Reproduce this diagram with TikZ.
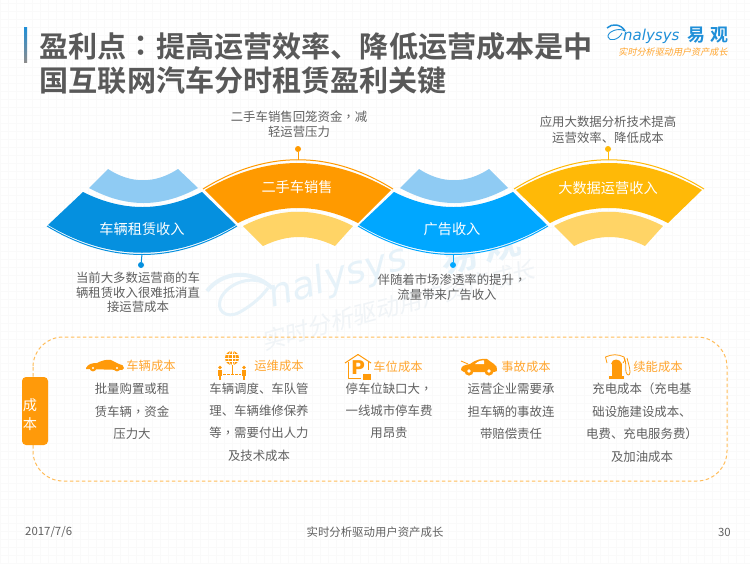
\documentclass[tikz,border=0pt]{standalone}
\usepackage{fontspec}
\setmainfont{DejaVu Sans}
\newfontfamily\cjk{Noto Sans CJK SC}
\newfontfamily\cjkb{Noto Sans CJK SC Bold}
\newfontfamily\cjktc{Noto Sans CJK TC}
\newfontfamily\cjktcb{Noto Sans CJK TC Bold}
\newfontfamily\cjksl[FakeSlant=0.2]{Noto Sans CJK SC}
\newfontfamily\latsl{DejaVu Sans Oblique}
\newcommand{\cm}{{\cjktc ，}}
\newcommand{\lp}{{\cjktc （}}
\newcommand{\rp}{{\cjktc ）}}
\usetikzlibrary{calc}
\definecolor{txtgray}{HTML}{606060}
\definecolor{titlegray}{HTML}{595959}
\definecolor{blueA}{HTML}{0590DF}
\definecolor{blueB}{HTML}{00A7FF}
\definecolor{orangeA}{HTML}{FF9A00}
\definecolor{yellowA}{HTML}{FFB907}
\definecolor{lightblue}{HTML}{8FCBF3}
\definecolor{lightyellow}{HTML}{FFD466}
\definecolor{headorange}{HTML}{FFA52E}
\definecolor{iconorange}{HTML}{FF9A0A}
\definecolor{dashorange}{HTML}{FFBD5A}
\definecolor{logoblue}{HTML}{1F8FD8}
\definecolor{wm}{HTML}{E6F2F9}
\definecolor{wmt}{HTML}{F0F4F7}
\definecolor{gridc}{HTML}{FAFAFA}
\tikzset{
  body/.style={font=\fontsize{12.4}{14}\selectfont\cjk,text=txtgray,inner sep=0pt,anchor=center},
  lab/.style={font=\fontsize{14.2}{16}\selectfont\cjk,text=white,inner sep=0pt},
  head/.style={font=\fontsize{12.3}{14}\selectfont\cjk,text=headorange,inner sep=0pt},
  titl/.style={font=\fontsize{29.1}{31}\selectfont\cjkb,text=titlegray,inner sep=0pt,anchor=west},
  foot/.style={font=\fontsize{11.4}{13}\selectfont\cjk,text=txtgray,inner sep=0pt},
  dotn/.style={circle,inner sep=0pt,minimum size=6pt},
}
\begin{document}
\begin{tikzpicture}[x=1pt,y=-1pt,line join=round]
\useasboundingbox (0,0) rectangle (750,563);
\fill[white] (0,0) rectangle (750,563);
% faint grid
\foreach \i in {0,8,...,750} {\draw[gridc,line width=0.4pt] (\i,0) -- (\i,563);}
\foreach \i in {3,11,...,563} {\draw[gridc,line width=0.4pt] (0,\i) -- (750,\i);}
% watermark
\node[rotate=16,inner sep=0pt,text=wm,font=\fontsize{38}{40}\selectfont\latsl] (wmlogo) at (338,278) {nalysys};
\node[rotate=16,inner sep=0pt,text=wm,font=\fontsize{38}{40}\selectfont\cjkb] (wmcn) at (480,250) {易\hspace{6pt}观};
\draw[wm,line width=4pt] (207,291) .. controls (222,272) and (250,268) .. (272,288);
\draw[wm,line width=3pt] (272,288) .. controls (258,274) and (232,280) .. (222,296) .. controls (214,310) and (226,320) .. (240,312) .. controls (254,304) and (262,296) .. (268,288);
\node[rotate=15,inner sep=0pt,text=wmt,font=\fontsize{23.5}{25}\selectfont\cjksl] (wmtag) at (398,305) {实时分析驱动用户资产成长};
% title
\fill[top color=logoblue,bottom color=gray!90] (24,27) rectangle (27,62);
\node[titl] (t1a) at (39.5,46) {盈利点};
\node[titl] (t1b) at (126,46) {{\cjktcb ：}};
\node[titl] (t1c) at (156,46) {提高运营效率、降低运营成本是中};
\node[titl] (t2) at (39.5,80) {国互联网汽车分时租赁盈利关键};
% logo
\draw[logoblue,line width=1.5pt] (607,28) .. controls (612,23) and (621,24) .. (625,31);
\draw[logoblue,line width=0.9pt] (625,31) .. controls (618,27) and (607,32) .. (608,37) .. controls (609,42) and (619,40) .. (622,33);
\node[inner sep=0pt,anchor=west,text=logoblue,font=\fontsize{15}{17}\selectfont\latsl] (logotxt) at (623,36) {nalysys};
\node[inner sep=0pt,anchor=west,text=logoblue,font=\fontsize{18}{20}\selectfont\cjkb] (logocn) at (687,35) {易\hspace{5pt}观};
\node[inner sep=0pt,anchor=center,text=headorange,font=\fontsize{9.1}{11}\selectfont\cjksl] (logotag) at (673,52) {实时分析驱动用户资产成长};
% === wave segments ===
% blue A
\fill[lightblue] (89,188) -- (108,169) .. controls (131,184) and (155,184) .. (178,169) -- (198,188) .. controls (161,208) and (126,208) .. (89,188) -- cycle;
\fill[blueA] (83,192) .. controls (123,212) and (162,212) .. (202,192) -- (236,225) .. controls (174,262) and (110,262) .. (48,225) -- cycle;
\coordinate (ca) at (142,254);
\draw[blueA,line width=1pt] (47,226) .. controls (110,264) and (174,264) .. (237,226);
\node[dotn,fill=blueA] (da) at (141,265) {};
\draw[blueA,line width=1pt] (da) -- (ca);
\node[lab] (la) at (142,229) {车辆租赁收入};
% orange
\fill[lightyellow] (243,226) .. controls (280,207) and (316,207) .. (353,226) -- (335,246) .. controls (310,234) and (288,234) .. (263,246) -- cycle;
\fill[orangeA] (205,190) .. controls (267,154) and (329,154) .. (391,190) -- (358,223) .. controls (318,203) and (278,203) .. (238,223) -- cycle;
\coordinate (cb) at (298,160);
\draw[orangeA,line width=1pt] (203,189) .. controls (266,150) and (330,150) .. (393,189);
\node[dotn,fill=orangeA] (db) at (298,149) {};
\draw[orangeA,line width=1pt] (db) -- (cb);
\node[lab] (lb) at (297,187) {二手车销售};
% blue B
\fill[lightblue] (400,188) -- (419,169) .. controls (442,184) and (466,184) .. (489,169) -- (508,188) .. controls (472,208) and (437,208) .. (400,188) -- cycle;
\fill[blueB] (394,192) .. controls (434,212) and (473,212) .. (513,192) -- (547,225) .. controls (485,262) and (421,262) .. (359,225) -- cycle;
\coordinate (cc) at (453,254);
\draw[blueB,line width=1pt] (358,226) .. controls (421,264) and (485,264) .. (548,226);
\node[dotn,fill=blueB] (dc) at (453,265) {};
\draw[blueB,line width=1pt] (dc) -- (cc);
\node[lab] (lc) at (452,229) {广告收入};
% yellow
\fill[lightyellow] (554,226) .. controls (590,207) and (627,207) .. (663,226) -- (645,246) .. controls (621,234) and (598,234) .. (574,246) -- cycle;
\fill[yellowA] (516,190) .. controls (578,154) and (640,154) .. (702,190) -- (668,223) .. controls (629,203) and (589,203) .. (550,223) -- cycle;
\coordinate (cd) at (608,160);
\draw[yellowA,line width=1pt] (514,189) .. controls (577,150) and (641,150) .. (704,189);
\node[dotn,fill=yellowA] (dd) at (608,149) {};
\draw[yellowA,line width=1pt] (dd) -- (cd);
\node[lab] (ld) at (608,188) {大数据运营收入};
% annotations
\node[body] (n1) at (299,117) {二手车销售回笼资金\cm 减};
\node[body] (n2) at (299,132) {轻运营压力};
\node[body] (n3) at (608,122) {应用大数据分析技术提高};
\node[body] (n4) at (608,138) {运营效率、降低成本};
\node[body] (n5) at (138,278) {当前大多数运营商的车};
\node[body] (n6) at (138,293) {辆租赁收入很难抵消直};
\node[body] (n7) at (138,307) {接运营成本};
\node[body] (n8) at (452,280) {伴随着市场渗透率的提升\cm};
\node[body] (n9) at (447,295) {流量带来广告收入};
% dashed frame
\draw[dashorange,line width=1pt,dash pattern=on 3.5pt off 2.5pt,rounded corners=30pt] (33,337) rectangle (727,481);
\node[fill=iconorange,rounded corners=4pt,minimum width=26pt,minimum height=68pt,inner sep=0pt] (cost) at (35,411) {};
\node[lab] (c1) at (30,405) {成};
\node[lab] (c2) at (30,424) {本};
% column 1
\node[head] (h1) at (151,366) {车辆成本};
\node[body] at (132,389) {批量购置或租};
\node[body] at (132,412) {赁车辆\cm 资金};
\node[body] at (132,434) {压力大};
% column 2
\node[head] (h2) at (279,366) {运维成本};
\node[body] at (259,389) {车辆调度、车队管};
\node[body] at (259,411) {理、车辆维修保养};
\node[body] at (259,433) {等\cm 需要付出人力};
\node[body] at (259,456) {及技术成本};
% column 3
\node[head] (h3) at (398,367) {车位成本};
\node[body] at (389,389) {停车位缺口大\cm};
\node[body] at (389,411) {一线城市停车费};
\node[body] at (389,433) {用昂贵};
% column 4
\node[head] (h4) at (526,367) {事故成本};
\node[body] at (511,389) {运营企业需要承};
\node[body] at (511,412) {担车辆的事故连};
\node[body] at (511,434) {带赔偿责任};
% column 5
\node[head] (h5) at (658,367) {续能成本};
\node[body] at (642,389) {充电成本\lp 充电基};
\node[body] at (642,412) {础设施建设成本、};
\node[body] at (642,434) {电费、充电服务费\rp};
\node[body] at (642,457) {及加油成本};
% icon car 1
\fill[iconorange] (86,368) .. controls (88,364) and (92,363) .. (97,363) .. controls (101,361) and (106,359) .. (111,360) .. controls (114,361) and (116,363) .. (119,364) .. controls (122,364) and (124,366) .. (124,368) -- (122,370) -- (86,369) -- cycle;
\fill[iconorange] (93,368) circle (3.4); \fill[white] (93,368) circle (1.2);
\fill[iconorange] (117,368) circle (3.4); \fill[white] (117,368) circle (1.2);
% icon network
\fill[iconorange] (232,358) circle (7);
\draw[white,line width=0.5pt] (225,358) -- (239,358) (232,351) -- (232,365) (226,354.5) -- (238,354.5) (226,361.5) -- (238,361.5);
\draw[white,line width=0.5pt] (232,358) ellipse (3.5 and 7);
\draw[iconorange,line width=0.9pt] (232,365) -- (232,374);
\draw[iconorange,line width=0.9pt,dash pattern=on 3pt off 1pt] (223,374) -- (241,374);
\foreach \xx in {220,244} {
  \fill[iconorange] (\xx,367.5) circle (1.8);
  \fill[iconorange] (\xx-2.2,370) rectangle (\xx+2.2,376);
  \fill[iconorange] (\xx-1.3,376) rectangle (\xx+1.3,380);
}
% icon parking
\draw[iconorange,line width=1pt] (345,363) -- (358,354.5) -- (371,363);
\draw[iconorange,line width=1pt] (348,362) -- (348,378) -- (361,378);
\draw[iconorange,line width=1pt] (368,362) -- (368,370);
\node[inner sep=0pt,text=iconorange,font=\fontsize{19}{20}\selectfont\bfseries] (pk) at (358,368) {P};
\fill[iconorange] (363,374) rectangle (371,380);
\draw[iconorange,line width=0.8pt] (364.5,374) arc (180:0:2.5);
% icon car 2
\fill[iconorange] (461,370) .. controls (461,366) and (464,365) .. (470,364) .. controls (475,360) and (482,358) .. (487,359) .. controls (490,361) and (492,363) .. (494,364) .. controls (497,365) and (497,368) .. (497,371) -- (494,372) -- (464,372) -- cycle;
\fill[white] (475,364) .. controls (478,361) and (482,360) .. (484,360.5) -- (484,364) -- cycle;
\draw[iconorange,line width=0.8pt] (461,361) -- (468,364);
\fill[iconorange] (469,371) circle (4.6); \fill[white] (469,371) circle (1.9);
\fill[iconorange] (489,371) circle (4.6); \fill[white] (489,371) circle (1.9);
% icon pump
\fill[iconorange] (609,379) rectangle (624,376);
\fill[iconorange] (611.5,376) rectangle (621.5,364);
\fill[iconorange] (611,364) .. controls (612,358) and (620,358) .. (622,364) -- cycle;
\draw[iconorange,line width=0.8pt] (607,363) -- (605.5,357) .. controls (612,354) and (618,354) .. (624,357) -- (625,360) -- (623,363);
\draw[iconorange,line width=0.8pt] (624,358) .. controls (627,362) and (625,368) .. (626,372) .. controls (627,376) and (630,376) .. (630,372) .. controls (630,368) and (628,362) .. (627,358);
% footer
\node[foot,anchor=west] (f1) at (25,532) {2017/7/6};
\node[foot] (f2) at (375,532) {实时分析驱动用户资产成长};
\node[foot,anchor=east] (f3) at (731,532) {30};
\end{tikzpicture}
\end{document}
